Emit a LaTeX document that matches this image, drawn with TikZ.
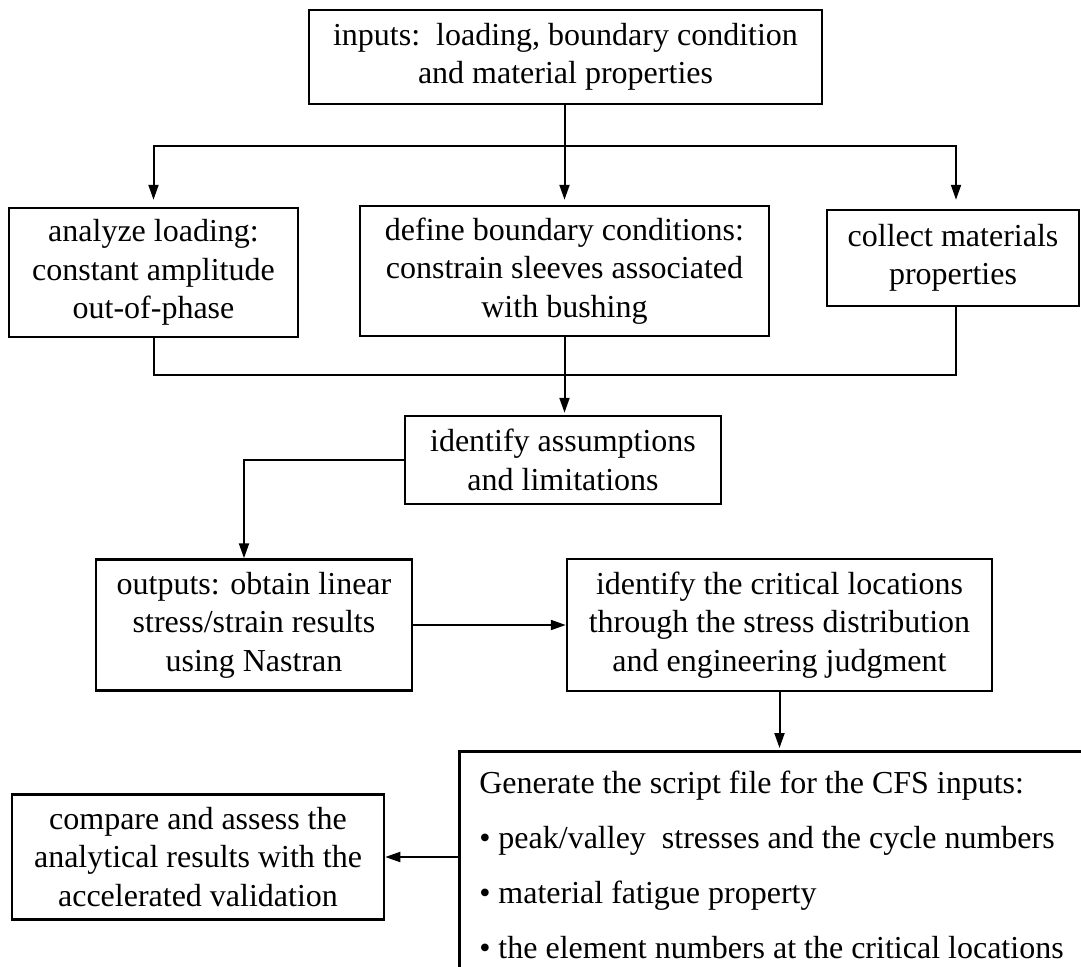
\documentclass[tikz,border=0pt]{standalone}
\usepackage{fontspec}
\setmainfont{Liberation Serif}
\usetikzlibrary{arrows.meta,calc}
\begin{document}
\begin{tikzpicture}[x=1pt,y=-1pt,
  box/.style={draw,line width=2.5pt,inner sep=0pt,align=center,font=\fontsize{32}{38.5}\selectfont},
  arr/.style={line width=2pt,-{Triangle[length=15pt,width=10pt]}},
  ln/.style={line width=2pt}]
\clip (0,0) rectangle (1081,966);
\node[box,minimum width=513pt,minimum height=94pt] (top) at (565.5,57) {inputs:\ \ loading, boundary condition\\and material properties};
\node[box,minimum width=289pt,minimum height=129pt] (A) at (153.5,272.5) {analyze loading:\\constant amplitude\\out-of-phase};
\node[box,minimum width=409pt,minimum height=130pt] (B) at (564.5,271) {define boundary conditions:\\constrain sleeves associated\\with bushing};
\node[box,minimum width=252pt,minimum height=96pt] (C) at (953,258) {collect materials\\properties};
\node[box,minimum width=316pt,minimum height=88pt] (D) at (563,460) {identify assumptions\\and limitations};
\node[box,minimum width=316pt,minimum height=131pt] (E) at (254,625) {outputs: obtain linear\\stress/strain results\\using Nastran};
\node[box,minimum width=425pt,minimum height=132pt] (F) at (779.5,625) {identify the critical locations\\through the stress distribution\\and engineering judgment};
\node[box,minimum width=372pt,minimum height=125pt] (H) at (198,857) {compare and assess the\\analytical results with the\\accelerated validation};
\node[box,align=left,inner xsep=20pt,minimum height=228pt,anchor=north west,font=\fontsize{32}{55}\selectfont] (G) at (458,750) {Generate the script file for the CFS inputs:\\\textbullet\ peak/valley\ \ stresses and the cycle numbers\\\textbullet\ material fatigue property\\\textbullet\ the element numbers at the critical locations};
\coordinate (j1) at (564,146);
\coordinate (j2) at (564,375);
\draw[arr,shorten >=5pt] (B.north |- top.south) -- (B.north);
\draw[arr,shorten >=7pt] (j1) -| (A.north);
\draw[arr,shorten >=9pt] (j1) -| ([xshift=3pt]C.north);
\draw[ln] (A.south) -- (A.south |- j2) -- ([xshift=3pt]C.south |- j2) -- ([xshift=3pt]C.south);
\draw[arr,shorten >=2pt] (B.south) -- (B.south |- D.north);
\draw[arr] (D.west) -| ([xshift=-10pt]E.north);
\draw[arr] (E.east) -- (F.west |- E.east);
\draw[arr,shorten >=2pt] (F.south) -- (F.south |- G.north);
\draw[arr] (G.west |- H.east) -- (H.east);
\end{tikzpicture}
\end{document}
